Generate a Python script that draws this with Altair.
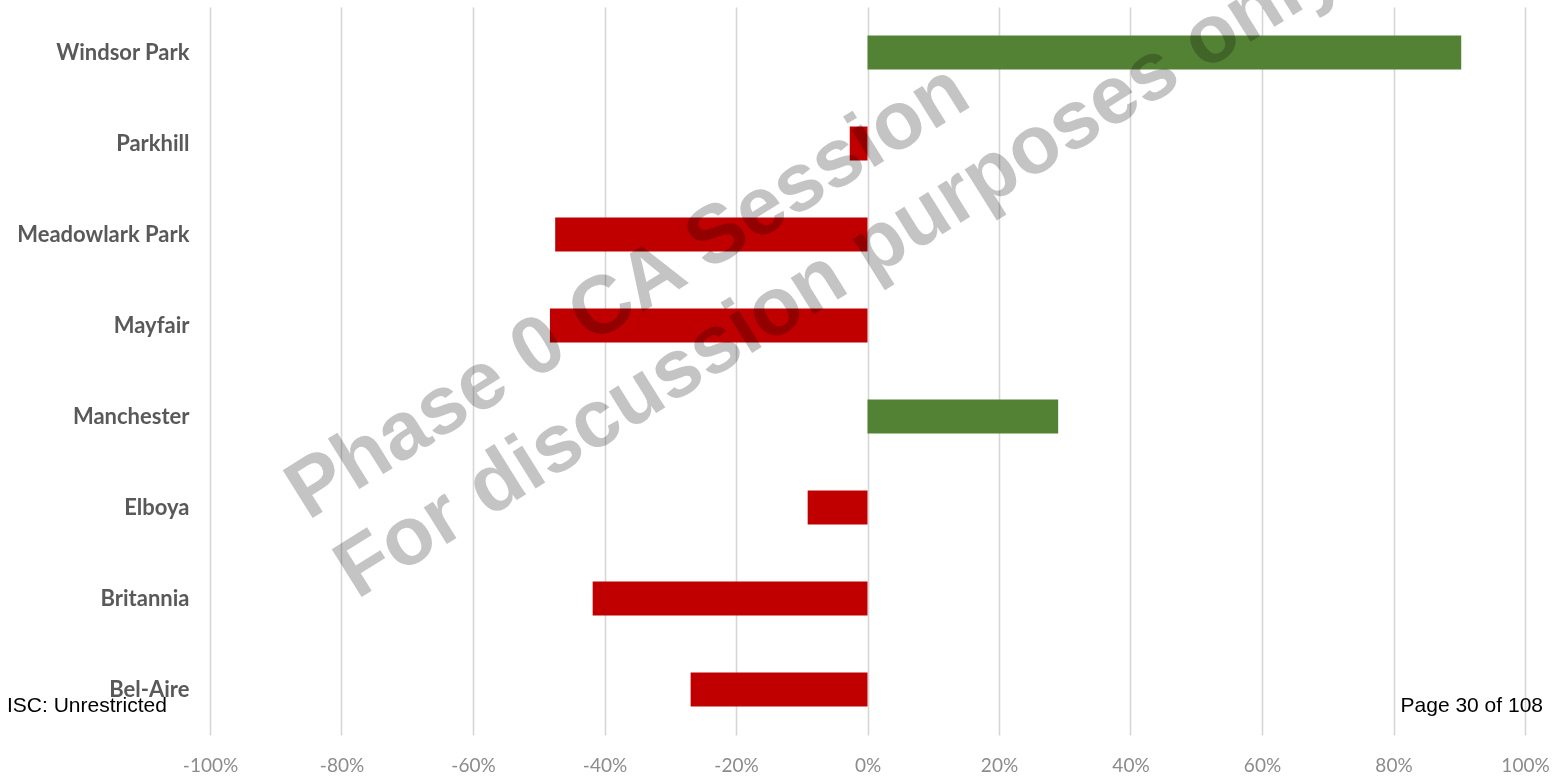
import altair as alt
import pandas as pd

categories = ["Windsor Park", "Parkhill", "Meadowlark Park", "Mayfair",
              "Manchester", "Elboya", "Britannia", "Bel-Aire"]
values = [0.903, -0.027, -0.475, -0.483, 0.290, -0.091, -0.418, -0.269]
tick_values = [-1.0, -0.8, -0.6, -0.4, -0.2, 0.0, 0.2, 0.4, 0.6, 0.8, 1.0]
watermark_lines = ["Phase 0 CA Session", "For discussion purposes only"]
footer_left = "ISC: Unrestricted"
footer_right = "Page 30 of 108"

df = pd.DataFrame({"name": categories, "value": values})

W, H = 1315, 728

bars = alt.Chart(df).mark_bar(size=34).encode(
    x=alt.X("value:Q",
            scale=alt.Scale(domain=[-1, 1], nice=False, zero=False),
            axis=alt.Axis(values=tick_values, title=None, domain=False,
                          ticks=False, tickSize=0, grid=True,
                          gridColor="#d6d6d6", gridWidth=1.6,
                          labelExpr="(datum.value < 0 ? '-' : '') + format(abs(datum.value) * 100, '.0f') + '%'",
                          labelFont="Lato", labelFontSize=19, labelColor="#8c8c8c",
                          labelPadding=21, labelFlush=False)),
    y=alt.Y("name:N", sort=categories,
            axis=alt.Axis(title=None, domain=False, ticks=False, grid=False,
                          labelFont="Lato", labelFontWeight="bold", labelFontSize=22,
                          labelColor="#595959", labelPadding=21)),
    color=alt.condition(alt.datum.value > 0, alt.value("#548235"), alt.value("#C00000")),
)

wm1 = alt.Chart(pd.DataFrame({"t": [watermark_lines[0]]})).mark_text(
    font="Liberation Sans", fontWeight="bold", fontSize=82, angle=328,
    align="left", baseline="alphabetic", fill="#c4c4c4", blend="multiply",
).encode(text="t:N", x=alt.value(98), y=alt.value(514))

wm2 = alt.Chart(pd.DataFrame({"t": [watermark_lines[1]]})).mark_text(
    font="Liberation Sans", fontWeight="bold", fontSize=82, angle=328,
    align="left", baseline="alphabetic", fill="#c4c4c4", blend="multiply",
).encode(text="t:N", x=alt.value(147), y=alt.value(593))

f1 = alt.Chart(pd.DataFrame({"t": [footer_left]})).mark_text(
    font="Liberation Sans", fontSize=21, align="left", baseline="alphabetic", color="black",
).encode(text="t:N", x=alt.value(-203), y=alt.value(705))

f2 = alt.Chart(pd.DataFrame({"t": [footer_right]})).mark_text(
    font="Liberation Sans", fontSize=21, align="right", baseline="alphabetic", color="black",
).encode(text="t:N", x=alt.value(1333), y=alt.value(705))

chart = alt.layer(bars, wm1, wm2, f1, f2).properties(
    width=W, height=H,
    background="white",
    autosize=alt.AutoSizeParams(type="none"),
    padding={"left": 210, "top": 7, "right": 38, "bottom": 44},
).configure_view(stroke=None)

chart.save("out.html", embed_options={"renderer": "svg", "actions": False})
